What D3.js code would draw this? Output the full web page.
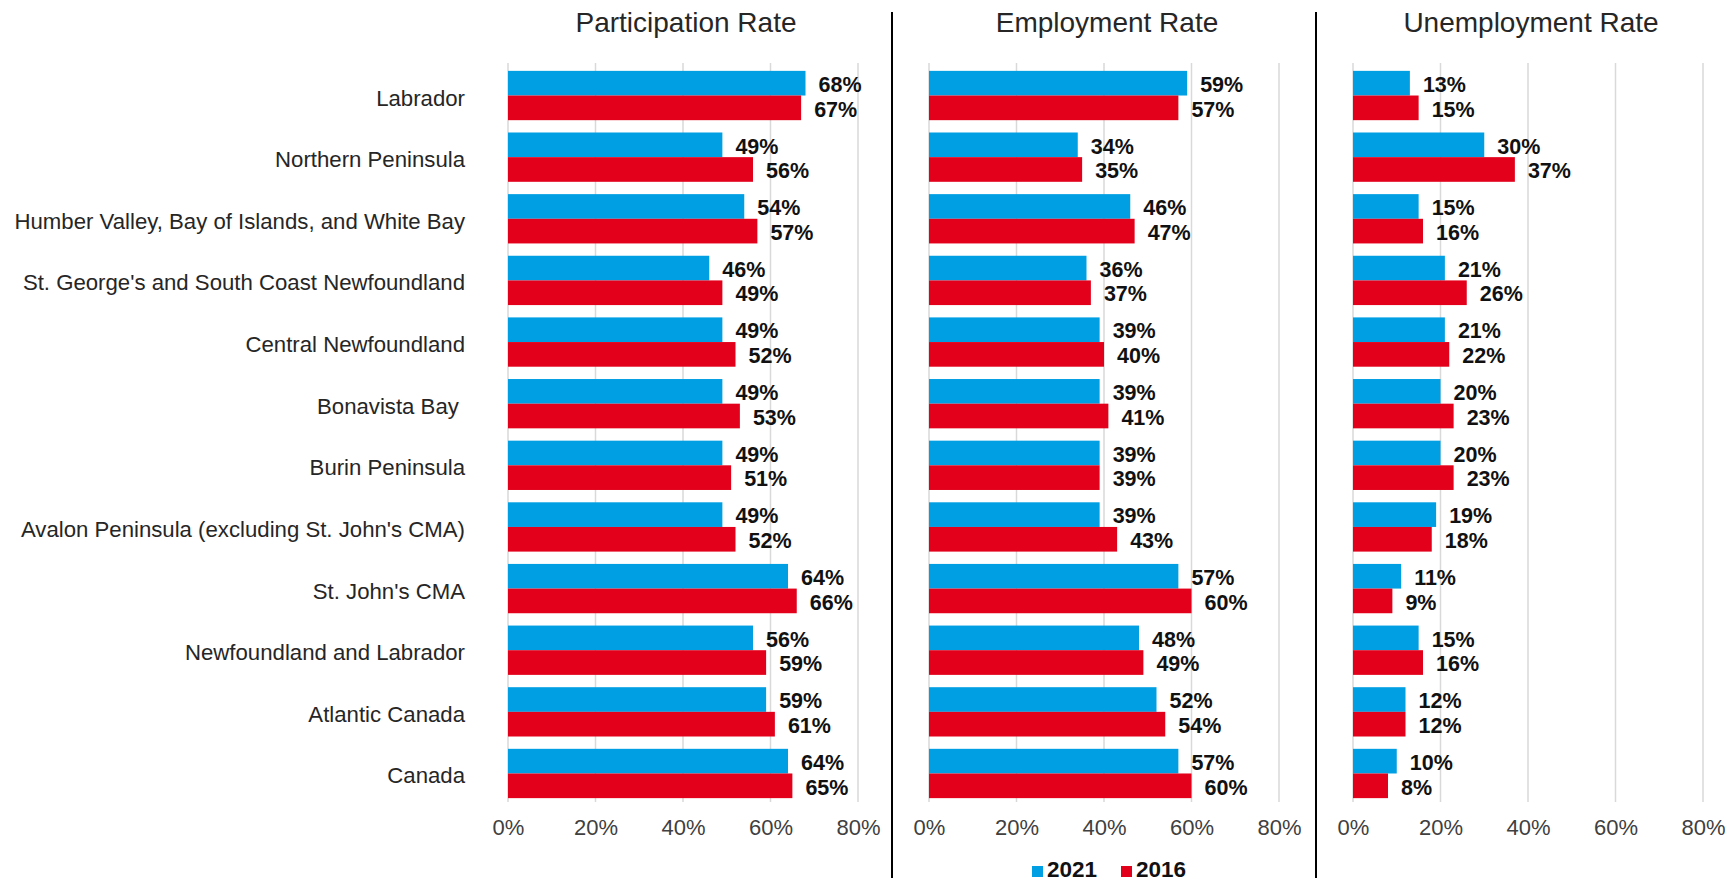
<!DOCTYPE html>
<html>
<head>
<meta charset="utf-8">
<script src="https://cdn.jsdelivr.net/npm/d3@7"></script>
<style>
  html, body { margin: 0; padding: 0; background: #ffffff; }
  svg { display: block; }
</style>
</head>
<body>
<svg id="chart" width="1731" height="882"></svg>
<script>
// ---------- data ----------
const categories = [
  "Labrador",
  "Northern Peninsula",
  "Humber Valley, Bay of Islands, and White Bay",
  "St. George's and South Coast Newfoundland",
  "Central Newfoundland",
  "Bonavista Bay ",
  "Burin Peninsula",
  "Avalon Peninsula (excluding St. John's CMA)",
  "St. John's CMA",
  "Newfoundland and Labrador",
  "Atlantic Canada",
  "Canada"
];
const seriesNames = ["2021", "2016"];
const panelTitles = ["Participation Rate", "Employment Rate", "Unemployment Rate"];

const participation2021 = [68, 49, 54, 46, 49, 49, 49, 49, 64, 56, 59, 64];
const participation2016 = [67, 56, 57, 49, 52, 53, 51, 52, 66, 59, 61, 65];
const employment2021   = [59, 34, 46, 36, 39, 39, 39, 39, 57, 48, 52, 57];
const employment2016   = [57, 35, 47, 37, 40, 41, 39, 43, 60, 49, 54, 60];
const unemployment2021 = [13, 30, 15, 21, 21, 20, 20, 19, 11, 15, 12, 10];
const unemployment2016 = [15, 37, 16, 26, 22, 23, 23, 18, 9, 16, 12, 8];

const tickValues = [0, 20, 40, 60, 80];

// ---------- layout ----------
const colors = { "2021": "#009FE3", "2016": "#E2001A" };
const panels = [
  { title: panelTitles[0], x0: 508, x1: 858, data: [participation2021, participation2016] },
  { title: panelTitles[1], x0: 929, x1: 1279, data: [employment2021, employment2016] },
  { title: panelTitles[2], x0: 1353, x1: 1703, data: [unemployment2021, unemployment2016] }
];
const separators = [892, 1316];
const gridTop = 63, gridBottom = 802;

const svg = d3.select("#chart");
const font = "'Liberation Sans', Arial, sans-serif";

const y = d3.scaleBand()
  .domain(categories)
  .range([64.7, 804.3])
  .paddingInner(0.2)
  .paddingOuter(0.1);

const ySeries = d3.scaleBand()
  .domain(seriesNames)
  .range([0, y.bandwidth()])
  .padding(0);

// category labels
svg.append("g")
  .selectAll("text")
  .data(categories)
  .join("text")
  .attr("x", 465)
  .attr("y", d => y(d) + y.bandwidth() / 2 + 2)
  .attr("dy", "0.36em")
  .attr("text-anchor", "end")
  .attr("xml:space", "preserve")
  .style("white-space", "pre")
  .attr("font-family", font)
  .attr("font-size", 22.2)
  .attr("fill", "#262626")
  .text(d => d);

panels.forEach(p => {
  const x = d3.scaleLinear().domain([0, 80]).range([p.x0, p.x1]);
  const g = svg.append("g");

  // gridlines
  g.append("g")
    .selectAll("line")
    .data(tickValues)
    .join("line")
    .attr("x1", d => x(d)).attr("x2", d => x(d))
    .attr("y1", gridTop).attr("y2", gridBottom)
    .attr("stroke", "#D9D9D9")
    .attr("stroke-width", 1.5);

  // axis tick labels
  const axis = d3.axisBottom(x).tickValues(tickValues).tickFormat(d => d + "%").tickSize(0).tickPadding(0);
  const ax = g.append("g")
    .attr("transform", `translate(0, 819)`)
    .call(axis);
  ax.select(".domain").remove();
  ax.selectAll("text")
    .attr("font-family", font)
    .attr("font-size", 22)
    .attr("fill", "#404040");

  // title
  g.append("text")
    .attr("x", (p.x0 + p.x1) / 2 + 3)
    .attr("y", 32)
    .attr("text-anchor", "middle")
    .attr("font-family", font)
    .attr("font-size", 28)
    .attr("fill", "#262626")
    .text(p.title);

  // bars + labels
  seriesNames.forEach((s, si) => {
    const vals = p.data[si];
    g.append("g")
      .selectAll("rect")
      .data(vals)
      .join("rect")
      .attr("x", x(0))
      .attr("y", (d, i) => y(categories[i]) + ySeries(s))
      .attr("width", d => x(d) - x(0))
      .attr("height", ySeries.bandwidth())
      .attr("fill", colors[s]);

    g.append("g")
      .selectAll("text")
      .data(vals)
      .join("text")
      .attr("x", d => x(d) + 13)
      .attr("y", (d, i) => y(categories[i]) + ySeries(s) + ySeries.bandwidth() / 2 + 1)
      .attr("dy", "0.36em")
      .attr("font-family", font)
      .attr("font-size", 21.5)
      .attr("font-weight", "bold")
      .attr("fill", "#111111")
      .text(d => Math.round(d) + "%");
  });
});

// separators
svg.append("g")
  .selectAll("line")
  .data(separators)
  .join("line")
  .attr("x1", d => d).attr("x2", d => d)
  .attr("y1", 12).attr("y2", 878)
  .attr("stroke", "#000")
  .attr("stroke-width", 2);

// legend
const legend = svg.append("g");
const legendItems = [
  { name: seriesNames[0], sx: 1032, tx: 1047 },
  { name: seriesNames[1], sx: 1121, tx: 1136 }
];
legendItems.forEach(it => {
  legend.append("rect")
    .attr("x", it.sx).attr("y", 866)
    .attr("width", 11).attr("height", 11)
    .attr("fill", colors[it.name]);
  legend.append("text")
    .attr("x", it.tx).attr("y", 877)
    .attr("font-family", font)
    .attr("font-size", 22.5)
    .attr("font-weight", "bold")
    .attr("fill", "#111111")
    .text(it.name);
});
</script>
</body>
</html>
